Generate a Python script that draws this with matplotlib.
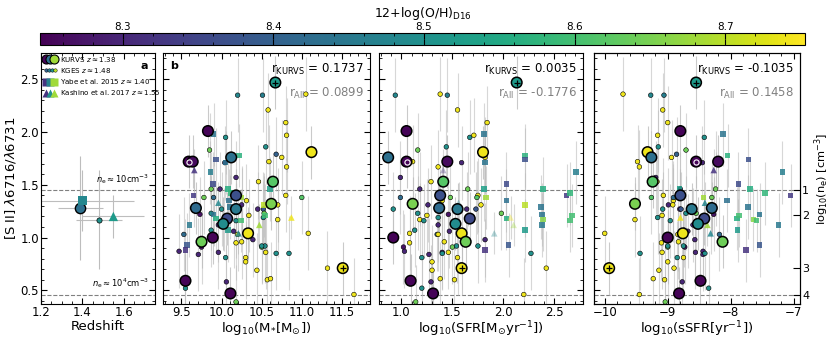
import numpy as np
import matplotlib
matplotlib.use("Agg")
import matplotlib.pyplot as plt
from matplotlib.lines import Line2D
from matplotlib.legend_handler import HandlerTuple
from matplotlib.ticker import MultipleLocator

# KURVS galaxies: [SII] ratio, stellar mass, SFR, sSFR, metallicity
kurvs_ratio = [2.47, 1.81, 2.01, 1.72, 1.76, 1.53, 1.40, 1.32, 1.28, 1.27,
               1.18, 1.13, 1.04, 1.00, 0.96, 0.59, 0.47, 0.71, 1.72]
kurvs_mass = [10.67, 11.12, 9.83, 9.59, 10.12, 10.64, 10.18, 10.62, 9.68, 10.18,
              10.07, 10.02, 10.33, 9.89, 9.75, 9.55, 10.11, 11.51, 9.64]
kurvs_sfr = [2.13, 1.80, 1.05, 1.05, 0.87, 1.41, 1.38, 1.11, 1.37, 1.55,
             1.67, 1.53, 1.59, 0.92, 1.63, 1.09, 1.31, 1.59, 1.45]
kurvs_ssfr = [-8.55, -9.32, -8.80, -8.55, -9.26, -9.24, -8.80, -9.52, -8.30, -8.62,
              -8.42, -8.52, -8.76, -9.00, -8.13, -8.48, -8.82, -9.93, -8.20]
kurvs_oh = [8.52, 8.74, 8.25, 8.25, 8.43, 8.62, 8.37, 8.65, 8.42, 8.45,
            8.36, 8.49, 8.74, 8.25, 8.64, 8.25, 8.25, 8.74, 8.26]
kurvs_flag = [1, 0, 0, 0, 0, 0, 0, 0, 0, 0, 0, 0, 0, 0, 0, 0, 0, 1, 0]
kurvs_ring = [0, 0, 0, 1, 0, 0, 0, 0, 0, 0, 0, 0, 0, 0, 0, 0, 0, 0, 0]

# KGES galaxies
kges_ratio = [2.35, 2.35, 2.36, 2.21, 2.09, 1.95, 1.97, 1.83, 1.86, 1.79,
              1.76, 1.67, 1.72, 1.71, 1.57, 1.53, 1.46, 1.46, 1.38, 1.40,
              1.38, 1.35, 1.27, 1.27, 1.31, 1.22, 1.23, 1.23, 1.19, 1.21,
              1.17, 1.16, 1.12, 1.07, 1.03, 0.96, 0.95, 0.91, 0.87, 0.84,
              0.86, 0.91, 0.86, 0.85, 0.85, 0.81, 0.81, 1.04, 0.71, 0.69,
              0.60, 0.61, 0.58, 0.52, 0.46, 0.39, 1.31, 1.27, 1.38, 1.06,
              1.03, 0.92, 0.98, 0.92, 0.77]
kges_mass = [10.20, 10.51, 11.05, 10.58, 10.80, 10.05, 10.81, 9.85, 10.55, 10.68,
             10.75, 10.81, 10.59, 10.04, 10.18, 10.46, 9.87, 9.98, 9.78, 10.80,
             11.00, 10.31, 10.45, 10.52, 10.70, 9.73, 9.87, 10.53, 10.52, 10.34,
             10.70, 10.18, 9.96, 9.87, 9.53, 10.25, 10.18, 9.75, 9.47, 9.71,
             9.96, 10.50, 10.55, 10.68, 10.84, 10.05, 10.30, 11.08, 11.32, 10.44,
             10.57, 10.61, 10.06, 9.55, 11.65, 10.18, 10.25, 10.00, 9.90, 10.15,
             10.20, 10.54, 10.39, 10.50, 10.30]
kges_sfr = [0.94, 1.45, 1.38, 1.55, 1.84, 1.67, 1.71, 1.16, 1.44, 1.82,
            1.82, 1.36, 1.11, 1.59, 0.99, 1.29, 1.65, 1.18, 1.48, 1.75,
            1.74, 1.40, 1.64, 1.73, 1.78, 1.46, 1.16, 1.98, 1.36, 1.25,
            1.18, 1.22, 1.36, 1.13, 1.35, 1.42, 1.08, 1.02, 1.03, 1.27,
            1.40, 1.50, 1.46, 2.27, 1.40, 1.20, 1.55, 1.08, 2.42, 1.30,
            1.52, 1.38, 1.29, 1.20, 2.20, 1.14, 1.26, 0.92, 0.99, 1.47,
            1.36, 1.54, 1.82, 1.75, 1.30]
kges_ssfr = [-9.27, -9.06, -9.71, -9.08, -9.00, -8.42, -9.16, -8.71, -9.15, -8.86,
             -8.94, -9.45, -9.48, -8.45, -9.19, -9.17, -8.24, -8.80, -8.30, -9.07,
             -9.26, -8.91, -8.81, -8.79, -8.92, -8.27, -8.71, -8.55, -9.16, -9.09,
             -9.52, -8.96, -8.60, -8.74, -8.18, -8.83, -9.10, -8.73, -8.44, -8.44,
             -8.56, -9.00, -9.09, -8.41, -9.44, -8.85, -8.75, -10.00, -8.90, -9.14,
             -9.05, -9.23, -8.77, -8.35, -9.45, -9.04, -8.99, -9.08, -8.91, -8.68,
             -8.84, -9.00, -8.57, -8.75, -9.00]
kges_oh = [8.48, 8.46, 8.74, 8.74, 8.74, 8.50, 8.74, 8.64, 8.50, 8.40,
           8.74, 8.74, 8.74, 8.30, 8.30, 8.74, 8.64, 8.30, 8.64, 8.74,
           8.62, 8.74, 8.30, 8.38, 8.74, 8.27, 8.50, 8.64, 8.50, 8.74,
           8.74, 8.50, 8.30, 8.50, 8.42, 8.74, 8.74, 8.27, 8.30, 8.30,
           8.30, 8.64, 8.74, 8.50, 8.50, 8.50, 8.74, 8.74, 8.74, 8.74,
           8.74, 8.74, 8.30, 8.50, 8.74, 8.64, 8.30, 8.50, 8.42, 8.30,
           8.74, 8.50, 8.30, 8.50, 8.74]

# Yabe et al. 2015
yabe_ratio = [1.98, 1.78, 1.74, 1.71, 1.62, 1.51, 1.46, 1.46, 1.38, 1.40,
              1.42, 1.35, 1.31, 1.29, 1.22, 1.18, 1.17, 1.21, 1.16, 1.12,
              1.07, 0.93, 0.88]
yabe_mass = [9.90, 10.22, 9.93, 10.05, 9.86, 9.89, 10.60, 10.08, 10.25, 9.65,
             10.11, 10.09, 10.53, 10.10, 9.90, 9.93, 10.03, 10.54, 10.24, 9.60,
             10.08, 9.57, 9.55]
yabe_sfr = [1.81, 2.21, 2.21, 1.82, 2.71, 2.03, 1.81, 2.39, 1.83, 2.62,
            2.65, 2.03, 2.21, 2.37, 2.38, 2.03, 2.39, 2.67, 2.65, 2.38,
            2.21, 2.05, 1.82]
yabe_ssfr = [-8.12, -8.05, -7.72, -8.23, -7.18, -7.88, -8.81, -7.69, -8.43, -7.05,
             -7.46, -8.06, -8.32, -7.73, -7.54, -7.90, -7.64, -7.87, -7.59, -7.24,
             -7.89, -7.54, -7.76]
yabe_oh = [8.44, 8.57, 8.37, 8.44, 8.46, 8.36, 8.53, 8.56, 8.68, 8.33,
           8.58, 8.43, 8.70, 8.44, 8.44, 8.56, 8.66, 8.60, 8.60, 8.45,
           8.52, 8.38, 8.32]

# Kashino et al. 2017
kash_ratio = [1.64, 1.33, 1.04, 1.19, 1.12]
kash_mass = [9.66, 9.96, 10.21, 10.87, 10.47]
kash_sfr = [1.41, 1.56, 1.91, 2.07, 2.10]
kash_ssfr = [-8.27, -8.41, -8.32, -8.80, -8.37]
kash_oh = [8.32, 8.48, 8.48, 8.74, 8.68]

# typical ratio uncertainties
kurvs_err = 0.25
kges_err = 0.35
yabe_err = 0.30
kash_err = 0.20

# panel a: sample medians
med_names = ["KURVS", "KGES", "Yabe", "Kashino"]
med_z = [1.39, 1.48, 1.40, 1.55]
med_zerr = [0.11, 0.11, 0.25, 0.15]
med_ratio = [1.28, 1.17, 1.35, 1.20]
med_rerr = [0.49, 0.47, 0.29, 0.20]
med_oh = [8.43, 8.50, 8.48, 8.52]

corr_kurvs = ["0.1737", "0.0035", "-0.1035"]
corr_all = ["0.0899", "-0.1776", "0.1458"]

ne_lo, ne_hi = 0.46, 1.45
ne_ticks = [1.45, 1.21, 0.71, 0.46]
ne_labels = ["1", "2", "3", "4"]

cmap = plt.get_cmap("viridis")
norm = matplotlib.colors.Normalize(vmin=8.245, vmax=8.753)
errc = "#bdbdbd"

fig = plt.figure(figsize=(8.3, 3.4), dpi=100)
bot, hgt = 1 - 304 / 340, 251 / 340
ax_a = fig.add_axes([0.0494, bot, 0.137, hgt])
ax_b = fig.add_axes([0.1964, bot, 0.2494, hgt])
ax_c = fig.add_axes([0.4566, bot, 0.2458, hgt])
ax_d = fig.add_axes([0.7157, bot, 0.2482, hgt])
cax = fig.add_axes([0.0482, 1 - 45 / 340, 0.9217, 12 / 340])

ylim = (0.37, 2.75)


def style(ax, xmaj, xmin):
    ax.set_ylim(*ylim)
    ax.xaxis.set_major_locator(MultipleLocator(xmaj))
    ax.xaxis.set_minor_locator(MultipleLocator(xmin))
    ax.yaxis.set_major_locator(MultipleLocator(0.5))
    ax.yaxis.set_minor_locator(MultipleLocator(0.1))
    ax.tick_params(which="both", direction="in", top=True, right=True,
                   labelsize=8.5, pad=1.5)
    ax.tick_params(which="major", length=4)
    ax.tick_params(which="minor", length=2)
    ax.axhline(ne_hi, color="gray", ls="--", lw=0.8, zorder=1)
    ax.axhline(ne_lo, color="gray", ls="--", lw=0.8, zorder=1)


# panel a
style(ax_a, 0.2, 0.05)
ax_a.set_xlim(1.2, 1.75)
ax_a.set_ylabel(r"[S II] $\lambda$6716/$\lambda$6731", fontsize=9.5, labelpad=2)
ax_a.set_xlabel("Redshift", fontsize=9.5, labelpad=0.5)
markers = ["o", "o", "s", "^"]
sizes = [55, 14, 45, 45]
for i in range(4):
    ax_a.errorbar(med_z[i], med_ratio[i], xerr=med_zerr[i], yerr=med_rerr[i],
                  fmt="none", ecolor=errc, elinewidth=0.8, zorder=2)
    ec = "k" if markers[i] == "o" else "none"
    ax_a.scatter(med_z[i], med_ratio[i], s=sizes[i], marker=markers[i],
                 c=[cmap(norm(med_oh[i]))], edgecolors=ec,
                 linewidths=1.0 if i == 0 else 0.5, zorder=4)
ax_a.text(0.95, ne_hi + 0.04, r"$n_\mathrm{e}\approx10\mathrm{cm}^{-3}$", fontsize=6,
          ha="right", va="bottom", transform=ax_a.get_yaxis_transform())
ax_a.text(0.95, ne_lo + 0.04, r"$n_\mathrm{e}\approx10^4\mathrm{cm}^{-3}$", fontsize=6,
          ha="right", va="bottom", transform=ax_a.get_yaxis_transform())
ax_a.text(0.94, 0.95, "a", fontsize=8, fontweight="bold", ha="right", va="center",
          transform=ax_a.transAxes, zorder=8)

h_kurvs = tuple(Line2D([], [], ls="", marker="o", ms=6.5, mfc=cmap(norm(v)), mec="k", mew=0.8)
                for v in [8.25, 8.43, 8.68])
h_kges = tuple(Line2D([], [], ls="", marker="o", ms=2.5, mfc=cmap(norm(v)), mec="k", mew=0.3)
               for v in [8.40, 8.45, 8.50, 8.70])
h_yabe = tuple(Line2D([], [], ls="", marker="s", ms=5.5, mfc=cmap(norm(v)), mec="none")
               for v in [8.32, 8.47, 8.68])
h_kash = tuple(Line2D([], [], ls="", marker="^", ms=5.5, mfc=cmap(norm(v)), mec="none")
               for v in [8.32, 8.50, 8.68])
ax_a.legend([h_kurvs, h_kges, h_yabe, h_kash],
            [r"KURVS $z\approx1.38$", r"KGES $z\approx1.48$",
             r"Yabe et al. 2015 $z\approx1.40$", r"Kashino et al. 2017 $z\approx1.55$"],
            handler_map={tuple: HandlerTuple(ndivide=None, pad=-0.4)},
            loc="upper left", fontsize=5.1, frameon=False, handlelength=2.1,
            handletextpad=0.3, labelspacing=0.3, borderaxespad=0.15, borderpad=0.1)

# panels b, c, d
panels = [
    (ax_b, kurvs_mass, kges_mass, yabe_mass, kash_mass, (9.27, 11.85), 0.5, 0.1,
     r"log$_{10}$(M$_{*}$[M$_{\odot}$])"),
    (ax_c, kurvs_sfr, kges_sfr, yabe_sfr, kash_sfr, (0.78, 2.78), 0.5, 0.1,
     r"log$_{10}$(SFR[M$_{\odot}$yr$^{-1}$])"),
    (ax_d, kurvs_ssfr, kges_ssfr, yabe_ssfr, kash_ssfr, (-10.17, -6.9), 1.0, 0.2,
     r"log$_{10}$(sSFR[yr$^{-1}$])"),
]
for j, (ax, xk, xg, xy, xt, xl, maj, mnr, lab) in enumerate(panels):
    style(ax, maj, mnr)
    ax.set_xlim(*xl)
    ax.set_xlabel(lab, fontsize=9.5, labelpad=0.5)
    ax.tick_params(labelleft=False)

    ax.errorbar(xg, kges_ratio, yerr=kges_err, fmt="none", ecolor=errc,
                elinewidth=0.8, alpha=0.6, zorder=1.5)
    ax.errorbar(xy, yabe_ratio, yerr=yabe_err, fmt="none", ecolor=errc,
                elinewidth=0.8, alpha=0.6, zorder=1.5)
    ax.errorbar(xt, kash_ratio, yerr=kash_err, fmt="none", ecolor=errc,
                elinewidth=0.8, alpha=0.6, zorder=1.5)
    ax.errorbar(xk, kurvs_ratio, yerr=kurvs_err, fmt="none", ecolor=errc,
                elinewidth=0.8, alpha=0.8, zorder=1.5)

    ax.scatter(xg, kges_ratio, s=11, c=kges_oh, cmap=cmap, norm=norm,
               edgecolors="k", linewidths=0.4, zorder=3)
    ax.scatter(xy, yabe_ratio, s=16, marker="s", c=yabe_oh, cmap=cmap, norm=norm,
               edgecolors="none", alpha=0.85, zorder=3)
    ax.scatter(xt, kash_ratio, s=22, marker="^", c=kash_oh, cmap=cmap, norm=norm,
               edgecolors="none", alpha=0.35 if j == 1 else 0.85, zorder=3)
    ax.scatter(xk, kurvs_ratio, s=58, c=kurvs_oh, cmap=cmap, norm=norm,
               edgecolors="k", linewidths=1.1, zorder=5)
    for i in range(len(xk)):
        if kurvs_flag[i]:
            ax.scatter(xk[i], kurvs_ratio[i], s=22, marker="+", c="k", linewidths=0.9, zorder=6)
        if kurvs_ring[i]:
            ax.scatter(xk[i], kurvs_ratio[i], s=14, c=[cmap(norm(kurvs_oh[i]))],
                       edgecolors="white", linewidths=0.8, zorder=6)

    ax.text(0.97, 0.935, r"r$_\mathrm{KURVS}$ = " + corr_kurvs[j], fontsize=8.5,
            ha="right", va="center", transform=ax.transAxes, zorder=7)
    ax.text(0.97, 0.84, r"r$_\mathrm{All}$ = " + corr_all[j], fontsize=8.5, color="gray",
            ha="right", va="center", transform=ax.transAxes, zorder=7)

ax_b.text(0.035, 0.95, "b", fontsize=8, fontweight="bold", ha="left", va="center",
          transform=ax_b.transAxes)

# density axis on the right
ax_r = ax_d.twinx()
ax_r.set_ylim(*ylim)
ax_r.set_yticks(ne_ticks)
ax_r.set_yticklabels(ne_labels)
ax_r.tick_params(direction="in", length=5, labelsize=8, pad=1.5)
ax_r.set_ylabel(r"log$_{10}$(n$_\mathrm{e}$) [cm$^{-3}$]", fontsize=8.2)
ax_r.yaxis.set_label_coords(1.062, 0.5)

# colorbar
sm = matplotlib.cm.ScalarMappable(norm=norm, cmap=cmap)
cb = fig.colorbar(sm, cax=cax, orientation="horizontal")
cb.set_ticks([8.3, 8.4, 8.5, 8.6, 8.7])
cb.ax.xaxis.set_minor_locator(MultipleLocator(0.02))
cb.ax.xaxis.set_ticks_position("both")
cb.ax.xaxis.set_label_position("top")
cb.ax.tick_params(which="both", direction="in", labeltop=True, labelbottom=False,
                  labelsize=7.5, pad=1)
cb.ax.tick_params(which="major", length=4)
cb.ax.tick_params(which="minor", length=2)
cb.set_label(r"12+log(O/H)$_\mathrm{D16}$", fontsize=9, labelpad=3)

fig.savefig("out.png", dpi=100)
